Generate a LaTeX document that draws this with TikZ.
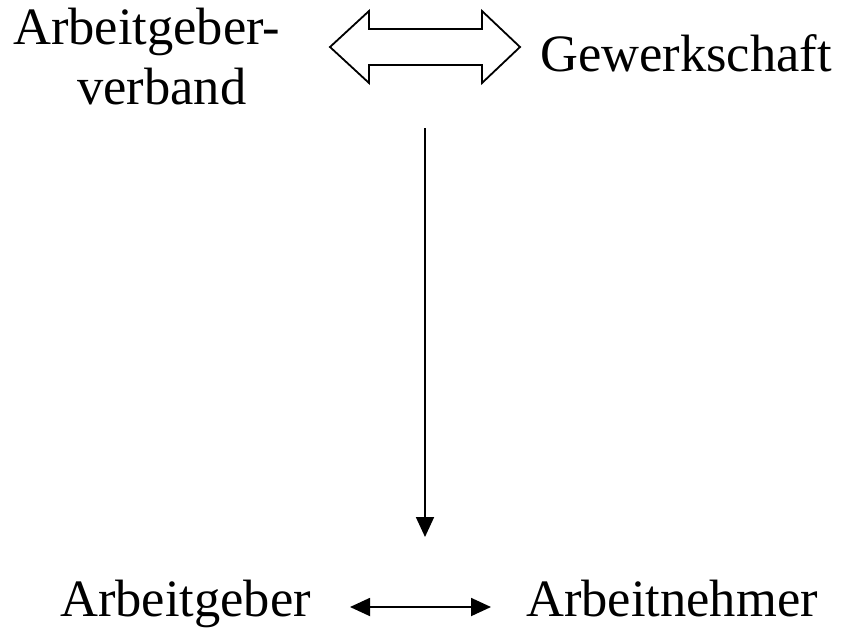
\documentclass[tikz,border=0pt]{standalone}
\usepackage{fontspec}
\setmainfont{Liberation Serif}
\usetikzlibrary{arrows.meta,calc}
\begin{document}
\begin{tikzpicture}[x=1pt,y=-1pt,
  lbl/.style={font=\fontsize{52.5}{56}\selectfont, inner sep=0pt, anchor=base west},
  conn/.style={line width=1.8pt, draw=black},
  tip/.style={-{Triangle[length=20pt,width=18pt]}}]
\useasboundingbox (0,0) rectangle (842,632);
\node[lbl] (agv) at (13,44) {Arbeitgeber-};
\node[lbl] (agv2) at (77,104) {verband};
\node[lbl] (gew) at (540,71) {Gewerkschaft};
\node[lbl] (ag) at (60,616) {Arbeitgeber};
\node[lbl] (an) at (526,616) {Arbeitnehmer};
% double outline arrow
\coordinate (dc) at (425,47);
\draw[conn, line join=miter] ($(dc)+(-95,0)$) -- ++(39,-36) -- ++(0,18) -- ($(dc)+(57,-18)$)
  -- ++(0,-18) -- ($(dc)+(95,0)$) -- ($(dc)+(57,36)$) -- ++(0,-18) -- ($(dc)+(-56,18)$)
  -- ++(0,18) -- cycle;
% vertical arrow
\coordinate (vtop) at (425,128);
\coordinate (vbot) at (425,537);
\draw[conn, tip] (vtop) -- (vbot);
% bottom double arrow
\coordinate (bl) at (350,607);
\coordinate (br) at (491,607);
\draw[conn, {Triangle[length=20pt,width=18pt]}-{Triangle[length=20pt,width=18pt]}] (bl) -- (br);
\end{tikzpicture}
\end{document}
